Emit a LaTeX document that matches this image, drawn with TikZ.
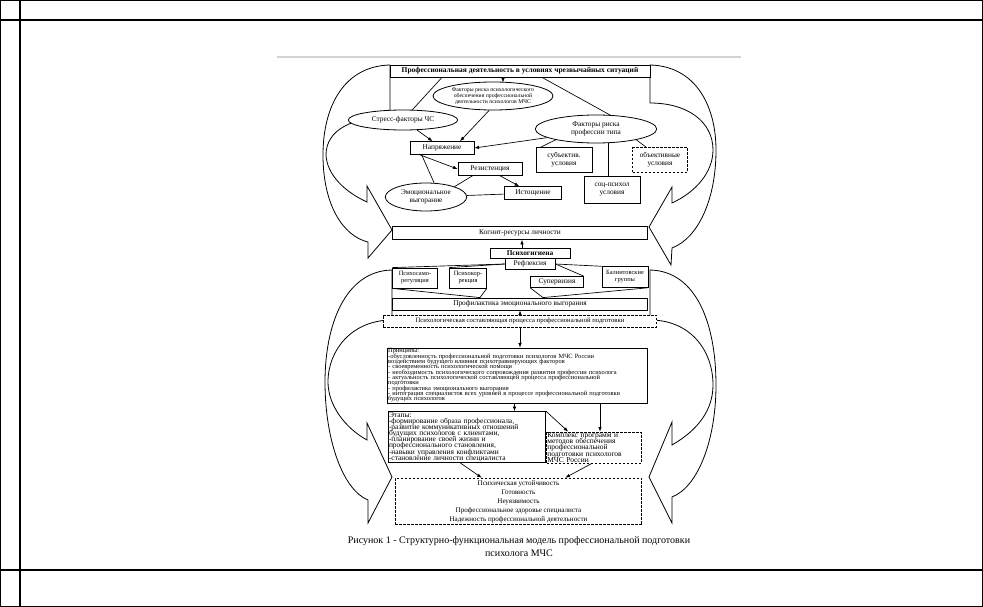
\documentclass[tikz,border=0pt]{standalone}
\usepackage{fontspec}
\setmainfont{Liberation Serif}
\usetikzlibrary{arrows.meta,shapes.geometric,calc}
\newcommand{\tightlines}{\lineskiplimit=-10pt\lineskip=0pt}
\begin{document}
\begin{tikzpicture}[x=0.75pt,y=-0.75pt,
  bx/.style={draw,line width=0.6pt,fill=white,inner sep=0.5pt,align=center,font=\fontsize{5.5}{6}\selectfont\tightlines},
  dbx/.style={bx,dash pattern=on 2pt off 1pt},
  el/.style={draw,ellipse,line width=0.6pt,fill=white,inner sep=0pt,align=center,font=\fontsize{5.5}{6}\selectfont\tightlines},
  ar/.style={-{Latex[length=3.5pt,width=2.6pt]},line width=0.5pt},
  ln/.style={line width=0.5pt},
  bigarrow/.style={draw,line width=0.6pt},
  tbl/.style={line width=1pt}]

\useasboundingbox (0,0) rectangle (983,607);

% table
\draw[tbl] (0.7,0.7) rectangle (982.3,606.3);
\draw[tbl] (0,20) -- (983,20);
\draw[tbl] (0,570) -- (983,570);
\draw[tbl] (20,0) -- (20,607);
\draw[gray!35,line width=1pt] (277,57) -- (741,57);

% big curved arrows
\draw[bigarrow] (390,65) .. controls (345,66) and (323,105) .. (323,155)
  .. controls (323,205) and (343,236) .. (368,242) -- (368,258) -- (392,230) -- (367,186) -- (367,202)
  .. controls (345,192) and (327,175) .. (326,155) .. controls (326,130) and (352,117) .. (390,117) -- cycle;
\draw[bigarrow] (650,65) .. controls (695,66) and (716,105) .. (716,150)
  .. controls (716,200) and (698,238) .. (672,248) -- (671,265) -- (649,227) -- (672,187) -- (672,203)
  .. controls (696,192) and (713,172) .. (713,150) .. controls (713,122) and (688,103) .. (650,103) -- cycle;
\draw[bigarrow] (392,270) .. controls (345,271) and (325,325) .. (325,382)
  .. controls (325,440) and (343,490) .. (368,500) -- (368,523) -- (392,477) -- (367,423) -- (367,440)
  .. controls (345,428) and (328,405) .. (328,382) .. controls (328,350) and (352,320) .. (392,320) -- cycle;
\draw[bigarrow] (650,270) .. controls (697,271) and (716,325) .. (716,385)
  .. controls (716,440) and (698,487) .. (672,497) -- (672,523) -- (649,477) -- (672,422) -- (672,445)
  .. controls (698,430) and (713,410) .. (713,385) .. controls (713,350) and (690,320) .. (650,320) -- cycle;

% upper part
\node[bx,minimum width=195pt,minimum height=9pt,font=\bfseries\fontsize{5.6}{6}\selectfont] (top) at (520,71)
  {Профессиональная деятельность в условиях чрезвычайных ситуаций};
\node[el,minimum width=90pt,minimum height=21pt,font=\fontsize{4.3}{4.6}\selectfont\tightlines] (ellF) at (493,96)
  {Факторы риска психологического\\обеспечения профессиональной\\деятельности психологов МЧС};
\node[el,minimum width=82pt,minimum height=15pt] (ellS) at (403,120) {Стресс-факторы ЧС};
\node[el,minimum width=91pt,minimum height=21pt] (ellP) at (596,129) {Факторы риска\\профессии типа};
\node[bx,minimum width=48pt,minimum height=9.5pt] (napr) at (442,148) {Напряжение};
\node[bx,minimum width=48pt,minimum height=9.5pt] (rez) at (490,169) {Резистенция};
\node[el,minimum width=61pt,minimum height=21pt] (emo) at (426,197) {Эмоциональное\\выгорание};
\node[bx,minimum width=42.5pt,minimum height=9.5pt] (ist) at (533,193) {Истощение};
\node[bx,minimum width=42pt,minimum height=18.5pt] (subj) at (564,160) {субъектив.\\условия};
\node[bx,minimum width=42pt,minimum height=20pt] (soc) at (612,190) {соц-психол\\условия};
\node[dbx,minimum width=41pt,minimum height=18.5pt] (obj) at (660,160) {объективные\\условия};

% middle part
\node[bx,minimum width=191pt,minimum height=9.5pt] (kog) at (520,233) {Когнит-ресурсы личности};
\node[bx,minimum width=60pt,minimum height=7.5pt,font=\bfseries\fontsize{5.5}{6}\selectfont] (gig) at (530,253) {Психогигиена};
\node[bx,minimum width=37.5pt,minimum height=8.2pt] (ref) at (530,264) {Рефлексия};
\node[bx,minimum width=33.5pt,minimum height=15pt,font=\fontsize{4.8}{5.2}\selectfont\tightlines] (psr) at (415,278) {Психосамо-\\регуляция};
\node[bx,minimum width=27.5pt,minimum height=15pt,font=\fontsize{4.8}{5.2}\selectfont\tightlines] (psk) at (468,278) {Психокор-\\рекция};
\node[bx,minimum width=39.5pt,minimum height=8.2pt] (sup) at (557,282) {Супервизия};
\node[bx,minimum width=34.5pt,minimum height=15.5pt,font=\fontsize{4.8}{5.2}\selectfont\tightlines] (bal) at (625,277) {Балинтовские\\группы};
\node[bx,minimum width=191pt,minimum height=9pt] (prof) at (520,304) {Профилактика эмоционального выгорания};
\node[dbx,minimum width=205pt,minimum height=9pt,font=\fontsize{5}{6}\selectfont] (sost) at (520,321)
  {Психологическая составляющая процесса профессиональной подготовки};

% lower part
\node[bx,text width=194pt,minimum height=41pt,align=left,font=\fontsize{4.8}{4.0}\selectfont\tightlines] (princ) at (517.5,375.5)
  {Принципы:\\
  -обусловленность профессиональной подготовки психологов МЧС России\\
  воздействием будущего влияния психотравмирующих факторов\\
  - своевременность психологической помощи\\
  - необходимость психологического сопровождения развития профессии психолога\\
  - актуальность психологической составляющей процесса профессиональной\\
  подготовки\\
  - профилактика эмоционального выгорания\\
  - интеграция специалистов всех уровней в процессе профессиональной подготовки\\
  будущих психологов};
\node[bx,text width=117pt,minimum height=37pt,align=left,font=\fontsize{5.6}{4.6}\selectfont\tightlines] (etap) at (467,437)
  {Этапы:\\
  -формирование образа профессионала,\\
  -развитие коммуникативных отношений\\
  будущих психологов с клиентами,\\
  -планирование своей жизни и\\
  профессионального становления,\\
  -навыки управления конфликтами\\
  -становление личности специалиста};
\node[dbx,text width=70pt,minimum height=23pt,align=left,font=\fontsize{5.6}{4.6}\selectfont\tightlines] (kompl) at (594,447.5)
  {Комплекс программ и\\методов обеспечения\\профессиональной\\подготовки психологов\\МЧС России};
\node[dbx,minimum width=185pt,minimum height=35pt,font=\fontsize{5.3}{6.7}\selectfont\tightlines] (res) at (518.5,501.5)
  {Психическая устойчивость\\Готовность\\Неуязвимость\\Профессиональное здоровье специалиста\\Надежность профессиональной деятельности};

\node[font=\fontsize{7.5}{9}\selectfont,inner sep=0pt] (cap1) at (519,541)
  {Рисунок 1 - Структурно-функциональная модель профессиональной подготовки};
\node[font=\fontsize{7.5}{9}\selectfont,inner sep=0pt] (cap2) at (519,553) {психолога МЧС};

% connectors upper
\coordinate (c0) at ($(ellF.north)+(10,1)$);
\draw[ar] (c0 |- top.south) -- (c0);
\draw[ln] (top.south -| napr.north) -- (ellS);
\draw[ln] ($(top.south)+(22,0)$) -- (ellP.45);
\draw[ar] (ellS) -- (napr);
\draw[ar] (ellF.255) -- ($(napr.north)+(18,0)$);
\draw[ar] (ellP.190) -- (napr.east);
\draw[ar] ($(napr.south west)+(10,0)$) -- (rez.west);
\draw[ln] ($(napr.south west)+(12,0)$) -- (emo.60);
\draw[ln] ($(rez.south west)+(15,0)$) -- (emo.20);
\draw[ar] ($(rez.south)+(10,0)$) -- ($(ist.north west)+(15,0)$);
\draw[ln] (emo) -- (ist);
\draw[ln] ($(subj.north west)+(5,0)$) -- (ellP.195);
\coordinate (c3) at ($(ellP.south)+(12,0)$);
\draw[ln] (c3 |- soc.north) -- (c3);
\draw[ln] ($(obj.north west)+(14,0)$) -- (ellP.345);

% connectors middle
\draw[ar] ($(gig.north)+(-8,0)$) -- ($(kog.south)+(2,0)$);
\draw[ln] (ref.west) -- (psr.north west);
\draw[ln] (ref.west) -- (psk.north west);
\draw[ln] (ref.east) -- (sup.north east);
\draw[ln] (ref.east) -- (bal.north west);
\coordinate (p1) at ($(prof.north)+(-40,0)$);
\coordinate (p2) at ($(prof.north)+(23,0)$);
\draw[ln] (psr.south west) -- (p1);
\draw[ln] (psk.south east) -- (p1);
\draw[ln] (sup.south west) -- (p2);
\draw[ln] (bal.south east) -- (p2);
\draw[ar] (sost.north) -- (prof.south);
\draw[ar] (sost.south) -- (sost.south |- princ.north);

% connectors lower
\coordinate (c1) at ($(princ.south)+(-3,0)$);
\draw[ar] (c1) -- (c1 |- etap.north);
\coordinate (c2) at ($(princ.south)+(82.5,0)$);
\draw[ar] (c2) -- (c2 |- kompl.north);
\draw[ar] (etap.north east) -- ($(kompl.north west)+(22,0)$);
\draw[ar] ($(etap.south)+(-7,0)$) -- ($(res.north west)+(87,0)$);
\draw[ar] ($(kompl.south)+(-2,0)$) -- ($(res.north east)+(-77,0)$);

\end{tikzpicture}
\end{document}
